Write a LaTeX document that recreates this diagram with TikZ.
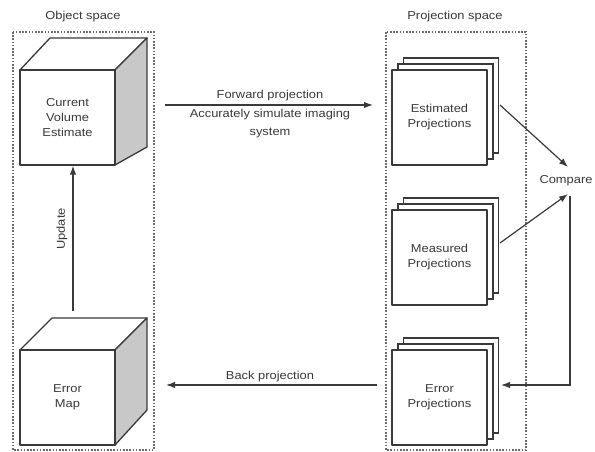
\documentclass[tikz,border=0pt]{standalone}
\usepackage{fontspec}
\setmainfont[FakeStretch=1.12]{Liberation Sans}
\usetikzlibrary{arrows.meta,calc}
\definecolor{ln}{HTML}{3A3A3A}
\definecolor{txt}{HTML}{3A3A3A}
\definecolor{shade}{HTML}{C8C8C8}
\tikzset{
  lbl/.style={font=\fontsize{11.5}{15}\selectfont, text=txt, inner sep=0pt, align=center},
  face/.style={draw=ln, line width=1.3pt, fill=white, line join=round},
  sideface/.style={draw=ln, line width=1.3pt, fill=shade, line join=round},
  frontface/.style={face, minimum width=95pt, minimum height=95pt, lbl},
  page/.style={draw=ln, line width=1.3pt, fill=white},
  region/.style={draw=ln!75, line width=1.2pt, dash pattern=on 1.6pt off 1.6pt},
  arr/.style={draw=ln, line width=1.2pt, -{Latex[length=9pt,width=6.5pt]}},
}
\begin{document}
\begin{tikzpicture}[x=1pt,y=-1pt]
\useasboundingbox (0,0) rectangle (595,452);
\fill[white] (0,0) rectangle (595,452);

% regions
\draw[region] (13,32) rectangle (154,450);
\draw[region] (386,32) rectangle (526,450);
\node[lbl] (objlbl) at (83,17) {Object space};
\node[lbl] (projlbl) at (455,17) {Projection space};

% cube 1
\draw[face] (20,70) -- (50,38) -- (147,38) -- (115,70) -- cycle;
\draw[sideface] (115,70) -- (147,38) -- (147,147) -- (115,165) -- cycle;
\node[frontface] (cve) at (67.5,117.5) {Current\\Volume\\Estimate};

% cube 2
\draw[face] (20,350) -- (52,318) -- (147,318) -- (115,350) -- cycle;
\draw[sideface] (115,350) -- (147,318) -- (147,410) -- (115,445) -- cycle;
\node[frontface] (em) at (67.5,397.5) {Error\\Map};

% stacks
\foreach \y in {117.5,257.5,397.5}{
  \draw[page] (404-0.5,\y-47.5-12) rectangle ++(95,95);
  \draw[page] (398,\y-47.5-6) rectangle ++(95,95);
}
\node[frontface] (est) at (439.5,117.5) {Estimated\\Projections};
\node[frontface] (mea) at (439.5,257.5) {Measured\\Projections};
\node[frontface] (errp) at (439.5,397.5) {Error\\Projections};

% compare
\node[lbl] (cmp) at (566,181) {Compare};

% update
\coordinate (upd) at (73,311);
\draw[arr] (upd) -- (upd |- cve.south);
\node[lbl, rotate=90] (updl) at (62,229) {Update};

% forward projection
\coordinate (fs) at (165,105);
\coordinate (fe) at (373,105);
\draw[arr] (fs) -- (fe);
\node[lbl] (fpl) at (270,96) {Forward projection};
\node[lbl, font=\fontsize{11.5}{18}\selectfont] (fpd) at (270,124) {Accurately simulate imaging\\system};

% back projection
\coordinate (bs) at (377,385);
\coordinate (be) at (166,385);
\draw[arr] (bs) -- (be);
\node[lbl] (bpl) at (270,377) {Back projection};

% compare arrows
\coordinate (e1) at (500,105);
\coordinate (m1) at (500,243);
\coordinate (c1) at (568,167);
\coordinate (c2) at (568,194);
\draw[arr] (e1) -- (c1);
\draw[arr] (m1) -- (c2);
\coordinate (c3) at (570,196);
\coordinate (r1) at (501,385);
\draw[arr] (c3) |- (r1);
\end{tikzpicture}
\end{document}
